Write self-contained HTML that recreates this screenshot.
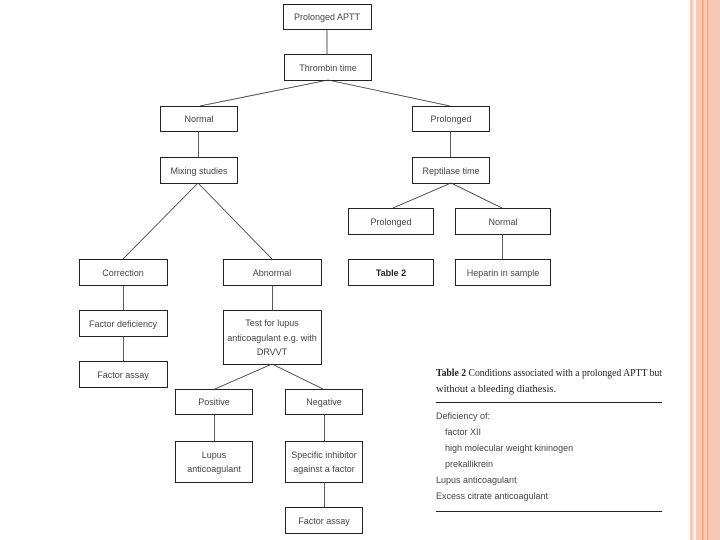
<!DOCTYPE html>
<html><head><style>
html,body{margin:0;padding:0;background:#fff;}
svg{display:block;}
text{font-family:"Liberation Sans",sans-serif;font-size:9px;fill:#444;}
.s{font-family:"Liberation Serif",serif;font-size:10.5px;fill:#222;}
</style></head><body>
<svg width="720" height="540" viewBox="0 0 720 540" xmlns="http://www.w3.org/2000/svg">
<rect width="720" height="540" fill="#fff"/>
<rect x="690" y="0" width="30" height="540" fill="#f9c8b4"/>
<rect x="693" y="0" width="3" height="540" fill="#fdf0ea"/>
<rect x="702" y="0" width="1.5" height="540" fill="#e8a482"/>
<rect x="707" y="0" width="1.5" height="540" fill="#eeae90"/>
<g fill="none" stroke="#222" stroke-width="1">
<rect x="283.5" y="4.5" width="88" height="25"/>
<rect x="284.5" y="54.5" width="87" height="26"/>
<rect x="160.5" y="106.5" width="77" height="25"/>
<rect x="412.5" y="106.5" width="77" height="25"/>
<rect x="160.5" y="157.5" width="77" height="26"/>
<rect x="412.5" y="157.5" width="77" height="26"/>
<rect x="348.5" y="208.5" width="85" height="26"/>
<rect x="455.5" y="208.5" width="95" height="26"/>
<rect x="79.5" y="259.5" width="88" height="26"/>
<rect x="223.5" y="259.5" width="98" height="26"/>
<rect x="348.5" y="259.5" width="85" height="26"/>
<rect x="455.5" y="259.5" width="95" height="26"/>
<rect x="79.5" y="310.5" width="88" height="26"/>
<rect x="223.5" y="310.5" width="98" height="54"/>
<rect x="79.5" y="361.5" width="88" height="26"/>
<rect x="175.5" y="389.5" width="77" height="25"/>
<rect x="285.5" y="389.5" width="77" height="25"/>
<rect x="175.5" y="441.5" width="77" height="41"/>
<rect x="285.5" y="441.5" width="77" height="41"/>
<rect x="285.5" y="507.5" width="77" height="26"/>
</g>
<g stroke="#333" stroke-width="0.8" fill="none">
<line x1="327" y1="29" x2="327" y2="54"/>
<line x1="328" y1="80" x2="200" y2="106"/>
<line x1="328" y1="80" x2="450" y2="106"/>
<line x1="198.5" y1="131" x2="198.5" y2="157"/>
<line x1="450.5" y1="131" x2="450.5" y2="157"/>
<line x1="198" y1="183" x2="123" y2="259"/>
<line x1="198" y1="183" x2="272" y2="259"/>
<line x1="451" y1="183" x2="393" y2="208"/>
<line x1="451" y1="183" x2="502" y2="208"/>
<line x1="502.5" y1="234" x2="502.5" y2="259"/>
<line x1="123.5" y1="285" x2="123.5" y2="310"/>
<line x1="123.5" y1="336" x2="123.5" y2="361"/>
<line x1="272.5" y1="285" x2="272.5" y2="310"/>
<line x1="272" y1="364" x2="215" y2="389"/>
<line x1="272" y1="364" x2="323" y2="389"/>
<line x1="214.5" y1="414" x2="214.5" y2="441"/>
<line x1="324.5" y1="414" x2="324.5" y2="441"/>
<line x1="324.5" y1="482" x2="324.5" y2="507"/>
</g>
<g text-anchor="middle">
<text x="327" y="20">Prolonged APTT</text>
<text x="328" y="71">Thrombin time</text>
<text x="199" y="122">Normal</text>
<text x="451" y="122">Prolonged</text>
<text x="199" y="174">Mixing studies</text>
<text x="451" y="174">Reptilase time</text>
<text x="391" y="225">Prolonged</text>
<text x="503" y="225">Normal</text>
<text x="123" y="276">Correction</text>
<text x="272" y="276">Abnormal</text>
<text x="391" y="276" style="font-weight:bold;fill:#222">Table 2</text>
<text x="503" y="276">Heparin in sample</text>
<text x="123" y="327">Factor deficiency</text>
<text x="272" y="326">Test for lupus</text>
<text x="272" y="341">anticoagulant e.g. with</text>
<text x="272" y="355">DRVVT</text>
<text x="123" y="378">Factor assay</text>
<text x="214" y="405">Positive</text>
<text x="324" y="405">Negative</text>
<text x="214" y="458">Lupus</text>
<text x="214" y="472">anticoagulant</text>
<text x="324" y="458">Specific inhibitor</text>
<text x="324" y="472">against a factor</text>
<text x="324" y="524">Factor assay</text>
</g>
<text class="s" x="436" y="376" textLength="226" lengthAdjust="spacingAndGlyphs"><tspan font-weight="bold">Table 2</tspan>    Conditions associated with a prolonged APTT but</text>
<text class="s" x="436" y="392">without a bleeding diathesis.</text>
<line x1="436" y1="402.5" x2="662" y2="402.5" stroke="#222" stroke-width="1"/>
<text x="436" y="419">Deficiency of:</text>
<text x="445" y="435">factor XII</text>
<text x="445" y="451">high molecular weight kininogen</text>
<text x="445" y="467">prekallikrein</text>
<text x="436" y="483">Lupus anticoagulant</text>
<text x="436" y="499">Excess citrate anticoagulant</text>
<line x1="436" y1="511.5" x2="662" y2="511.5" stroke="#222" stroke-width="1"/>
</svg>
</body></html>
